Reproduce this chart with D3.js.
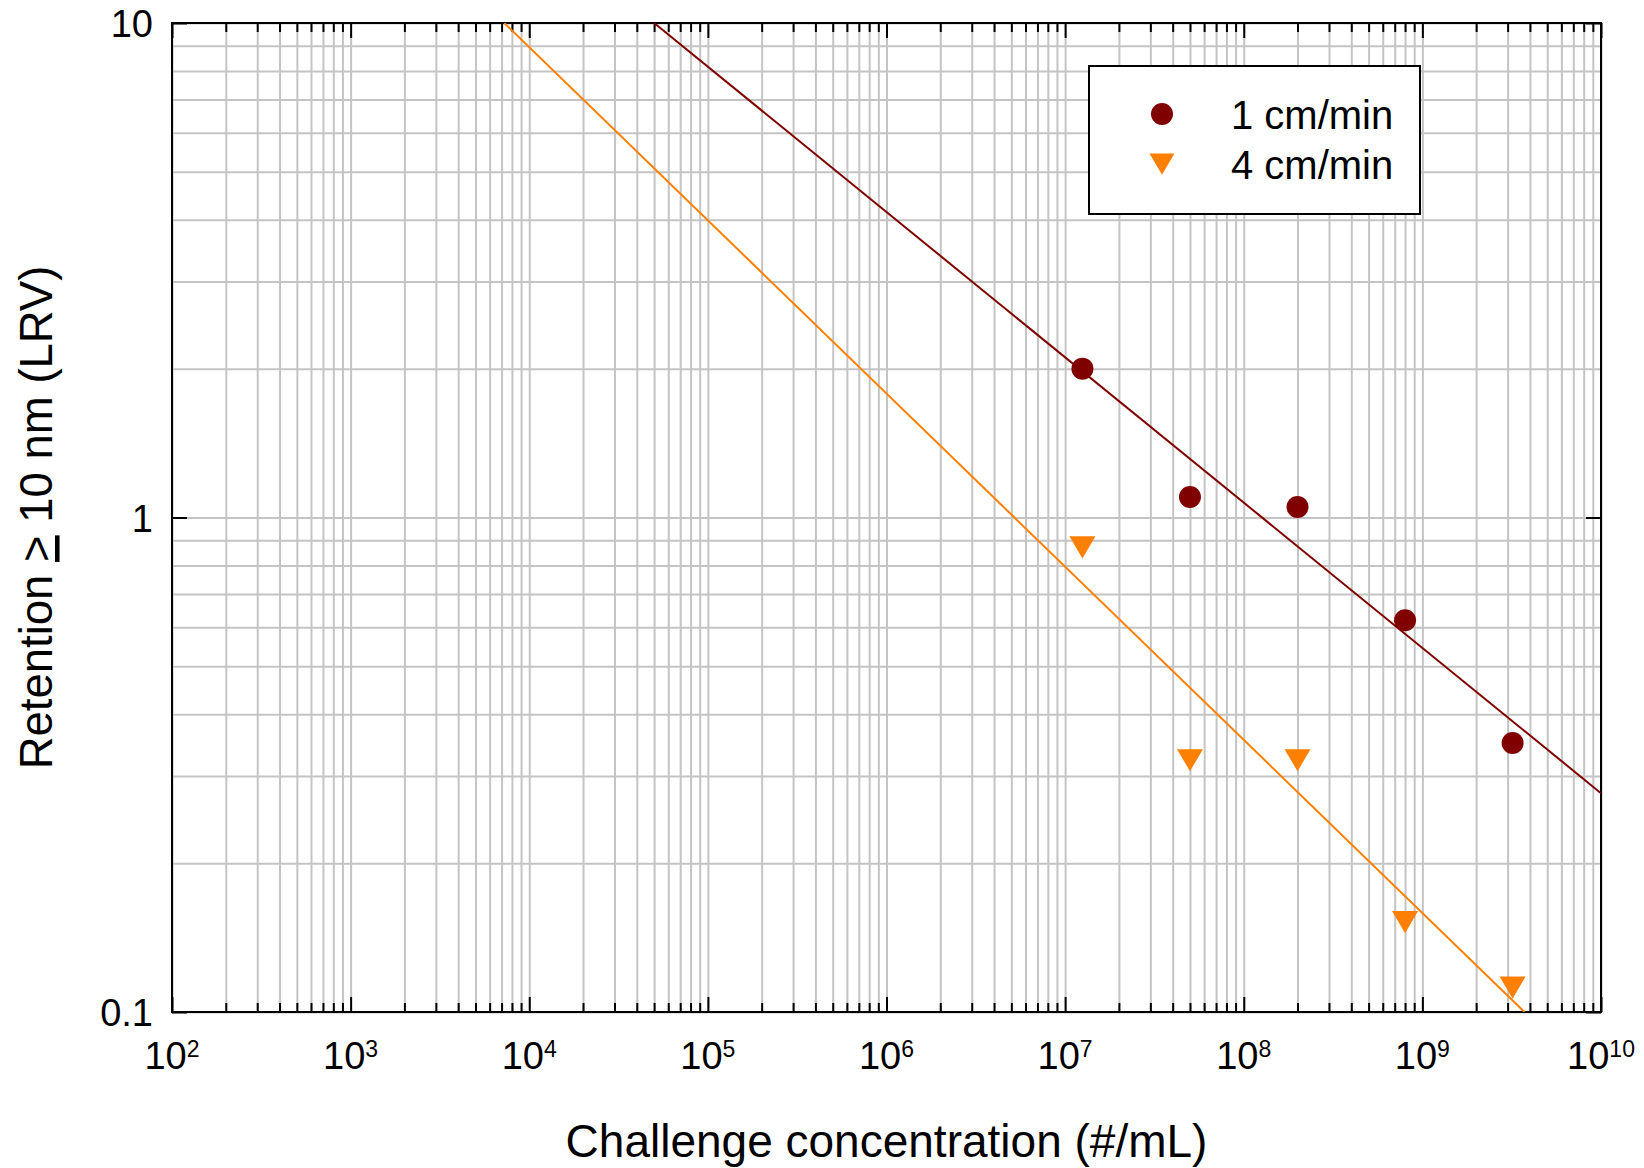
<!DOCTYPE html>
<html>
<head>
<meta charset="utf-8">
<script src="https://cdn.jsdelivr.net/npm/d3@7"></script>
<style>
  body { margin: 0; background: #fff; }
  text { font-family: "Liberation Sans", Arial, sans-serif; fill: #000; }
</style>
</head>
<body>
<div id="chart"></div>
<script>
const FRAME_WIDTH = 1644;
const FRAME_HEIGHT = 1168;
const MARGINS = {left: 172, right: 43, top: 23, bottom: 156};

const VIS_WIDTH = FRAME_WIDTH - MARGINS.left - MARGINS.right;
const VIS_HEIGHT = FRAME_HEIGHT - MARGINS.top - MARGINS.bottom;

const DARKRED = "#800000";
const ORANGE = "#ff8000";
const GRID = "#c4c4c4";

// data
const SERIES_NAMES = ["1 cm/min", "4 cm/min"];
const CONC = [1.25e7, 5e7, 2e8, 8e8, 3.2e9];
const LRV_1CM = [2.0, 1.1, 1.05, 0.62, 0.35];
const LRV_4CM = [0.87, 0.323, 0.323, 0.152, 0.112];

// fitted lines (end points)
const FIT_1CM_X = [5.0e4, 1e10];
const FIT_1CM_Y = [10, 0.277];
const FIT_4CM_X = [7.25e3, 3.73e9];
const FIT_4CM_Y = [10, 0.1];

// tick labels
const X_TICK_EXP = [2, 3, 4, 5, 6, 7, 8, 9, 10];
const Y_TICK_VALUES = [0.1, 1, 10];
const Y_TICK_LABELS = ["0.1", "1", "10"];

const X_TITLE = "Challenge concentration (#/mL)";

const X_SCALE = d3.scaleLog()
    .domain([1e2, 1e10])
    .range([0, VIS_WIDTH]);

const Y_SCALE = d3.scaleLog()
    .domain([0.1, 10])
    .range([VIS_HEIGHT, 0]);

const SVG = d3.select("#chart")
    .append("svg")
      .attr("width", FRAME_WIDTH)
      .attr("height", FRAME_HEIGHT);

SVG.append("defs").append("clipPath")
    .attr("id", "plotclip")
  .append("rect")
    .attr("width", VIS_WIDTH)
    .attr("height", VIS_HEIGHT);

const PLOT = SVG.append("g")
    .attr("transform", "translate(" + MARGINS.left + "," + MARGINS.top + ")");

// downward triangle, centred on its bounding box
const triangleDown = {
  draw(context, size) {
    const w = Math.sqrt(size);
    const h = w * 0.85;
    context.moveTo(-w / 2, -h / 2);
    context.lineTo(w / 2, -h / 2);
    context.lineTo(0, h / 2);
    context.closePath();
  }
};

//gridlines
let allX = X_SCALE.ticks();
let allY = Y_SCALE.ticks();

PLOT.append("g")
    .attr("class", "grid")
    .attr("transform", "translate(0," + VIS_HEIGHT + ")")
    .call(d3.axisBottom(X_SCALE).tickValues(allX).tickSize(-VIS_HEIGHT).tickFormat(""));

PLOT.append("g")
    .attr("class", "grid")
    .call(d3.axisLeft(Y_SCALE).tickValues(allY).tickSize(-VIS_WIDTH).tickFormat(""));

PLOT.selectAll(".grid line").attr("stroke", GRID).attr("stroke-width", 2);
PLOT.selectAll(".grid path").remove();

//tick marks (inside, on all four sides)
const majorX = allX.filter((d) => Math.abs(Math.log10(d) - Math.round(Math.log10(d))) < 1e-9);
const minorX = allX.filter((d) => !majorX.includes(d));

function tickGroup(axis) {
  let g = PLOT.append("g").attr("class", "ticks").call(axis);
  g.select("path").remove();
  g.selectAll("line").attr("stroke", "#000").attr("stroke-width", 2);
  return g;
}

tickGroup(d3.axisBottom(X_SCALE).tickValues(minorX).tickSize(-9).tickFormat(""))
    .attr("transform", "translate(0," + VIS_HEIGHT + ")");
tickGroup(d3.axisBottom(X_SCALE).tickValues(majorX).tickSize(-15).tickFormat(""))
    .attr("transform", "translate(0," + VIS_HEIGHT + ")");
tickGroup(d3.axisTop(X_SCALE).tickValues(minorX).tickSize(-9).tickFormat(""));
tickGroup(d3.axisTop(X_SCALE).tickValues(majorX).tickSize(-15).tickFormat(""));
tickGroup(d3.axisLeft(Y_SCALE).tickValues(Y_TICK_VALUES).tickSize(-15).tickFormat(""));
tickGroup(d3.axisRight(Y_SCALE).tickValues(Y_TICK_VALUES).tickSize(-15).tickFormat(""))
    .attr("transform", "translate(" + VIS_WIDTH + ",0)");

//frame
PLOT.append("rect")
    .attr("width", VIS_WIDTH)
    .attr("height", VIS_HEIGHT)
    .attr("fill", "none")
    .attr("stroke", "#000")
    .attr("stroke-width", 2);

//x tick labels: 10 with superscript exponent
let xLabels = PLOT.selectAll(".xlabel")
    .data(X_TICK_EXP)
    .enter()
    .append("text")
      .attr("class", "xlabel")
      .attr("x", (d) => X_SCALE(Math.pow(10, d)))
      .attr("y", VIS_HEIGHT + 57)
      .attr("text-anchor", "middle")
      .attr("font-size", "38px");
xLabels.append("tspan").text("10");
xLabels.append("tspan")
    .attr("font-size", "23px")
    .attr("dy", -12)
    .text((d) => d);

//y tick labels
PLOT.selectAll(".ylabel")
    .data(Y_TICK_VALUES)
    .enter()
    .append("text")
      .attr("class", "ylabel")
      .attr("x", -19)
      .attr("y", (d) => Y_SCALE(d) + 14)
      .attr("text-anchor", "end")
      .attr("font-size", "38px")
      .text((d, i) => Y_TICK_LABELS[i]);

//axis titles
SVG.append("text")
    .attr("x", MARGINS.left + VIS_WIDTH / 2)
    .attr("y", 1157)
    .attr("text-anchor", "middle")
    .attr("font-size", "46px")
    .text(X_TITLE);

let yTitle = SVG.append("text")
    .attr("transform", "translate(52," + (MARGINS.top + VIS_HEIGHT / 2) + ") rotate(-90)")
    .attr("text-anchor", "middle")
    .attr("font-size", "45.5px");
yTitle.append("tspan").text("Retention ");
yTitle.append("tspan").attr("text-decoration", "underline").text(">");
yTitle.append("tspan").text(" 10 nm (LRV)");

//fitted lines
const line = d3.line()
    .x((d) => X_SCALE(d[0]))
    .y((d) => Y_SCALE(d[1]));

const fits = [
  {color: DARKRED, pts: d3.zip(FIT_1CM_X, FIT_1CM_Y)},
  {color: ORANGE, pts: d3.zip(FIT_4CM_X, FIT_4CM_Y)}
];

PLOT.append("g")
    .attr("clip-path", "url(#plotclip)")
  .selectAll("path")
    .data(fits)
    .enter()
    .append("path")
      .attr("d", (d) => line(d.pts))
      .attr("fill", "none")
      .attr("stroke", (d) => d.color)
      .attr("stroke-width", 2);

//points
PLOT.selectAll(".pt1")
    .data(d3.zip(CONC, LRV_1CM))
    .enter()
    .append("circle")
      .attr("class", "pt1")
      .attr("cx", (d) => X_SCALE(d[0]))
      .attr("cy", (d) => Y_SCALE(d[1]))
      .attr("r", 11)
      .attr("fill", DARKRED);

PLOT.selectAll(".pt4")
    .data(d3.zip(CONC, LRV_4CM))
    .enter()
    .append("path")
      .attr("class", "pt4")
      .attr("transform", (d) => "translate(" + X_SCALE(d[0]) + "," + Y_SCALE(d[1]) + ")")
      .attr("d", d3.symbol(triangleDown, 26 * 26))
      .attr("fill", ORANGE);

//legend
const LEGEND = SVG.append("g").attr("transform", "translate(1089,66)");
LEGEND.append("rect")
    .attr("width", 331)
    .attr("height", 148)
    .attr("fill", "#fff")
    .attr("stroke", "#000")
    .attr("stroke-width", 2);

const legendItems = [
  {name: SERIES_NAMES[0], color: DARKRED, shape: d3.symbolCircle, size: Math.PI * 121},
  {name: SERIES_NAMES[1], color: ORANGE, shape: triangleDown, size: 25 * 25}
];

let items = LEGEND.selectAll(".item")
    .data(legendItems)
    .enter()
    .append("g")
      .attr("class", "item")
      .attr("transform", (d, i) => "translate(0," + (48 + i * 50) + ")");

items.append("path")
    .attr("transform", "translate(73,0)")
    .attr("d", (d) => d3.symbol(d.shape, d.size)())
    .attr("fill", (d) => d.color);

items.append("text")
    .attr("x", 142)
    .attr("y", 15)
    .attr("font-size", "40px")
    .text((d) => d.name);
</script>
</body>
</html>
